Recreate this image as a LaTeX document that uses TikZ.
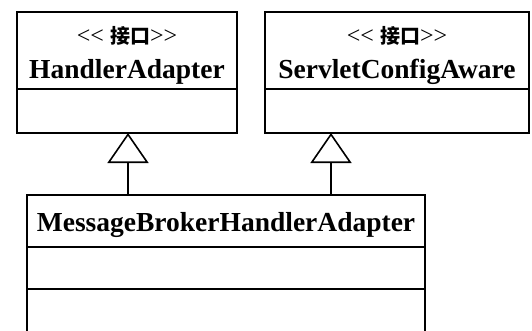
\documentclass[tikz,border=0pt]{standalone}
\usepackage{fontspec}
\setmainfont{Liberation Serif}
\newfontfamily\cjk{Noto Sans CJK SC}
\usetikzlibrary{arrows.meta}
\newcommand{\stereoint}{{<}{<}\ {\cjk\bfseries\fontsize{20}{24}\selectfont 接口}{>}{>}}
\begin{document}
\begin{tikzpicture}[x=1pt,y=-1pt,
  umlbox/.style={draw=black,line width=1.6pt,rectangle,inner sep=0pt,outer sep=0pt},
  nametext/.style={font=\fontsize{27.5}{30}\selectfont\bfseries,anchor=base,inner sep=0pt},
  stereo/.style={font=\fontsize{24}{26}\selectfont,anchor=base,inner sep=0pt},
  inherit/.style={draw=black,line width=1.6pt,-{Triangle[open,length=30pt,width=41pt,line width=1.6pt]}}]
\clip (0,0) rectangle (532,330);
\fill[white] (0,0) rectangle (532,330);
% HandlerAdapter
\node[umlbox,minimum width=220pt,minimum height=77pt] (ha) at (127,50.5) {};
\node[umlbox,minimum width=220pt,minimum height=44pt,anchor=north] (hab) at (ha.south) {};
\node[stereo] (hast) at (127,43) {\stereoint};
\node[nametext] (han) at (127,78) {HandlerAdapter};
% ServletConfigAware
\node[umlbox,minimum width=264pt,minimum height=77pt] (sc) at (397,50.5) {};
\node[umlbox,minimum width=264pt,minimum height=44pt,anchor=north] (scb) at (sc.south) {};
\node[stereo] (scst) at (397,43) {\stereoint};
\node[nametext] (scn) at (397,78) {ServletConfigAware};
% MessageBrokerHandlerAdapter
\node[umlbox,minimum width=398pt,minimum height=52pt] (mb) at (226,221) {};
\node[umlbox,minimum width=398pt,minimum height=42pt,anchor=north] (mbb) at (mb.south) {};
\node[umlbox,minimum width=398pt,minimum height=60pt,anchor=north] (mbc) at (mbb.south) {};
\node[nametext] (mbn) at (226,231) {MessageBrokerHandlerAdapter};
% generalisations
\draw[inherit] (mb.north -| 128,0) -- (hab.south -| 128,0);
\draw[inherit] (mb.north -| 331,0) -- (scb.south -| 331,0);
\end{tikzpicture}
\end{document}
